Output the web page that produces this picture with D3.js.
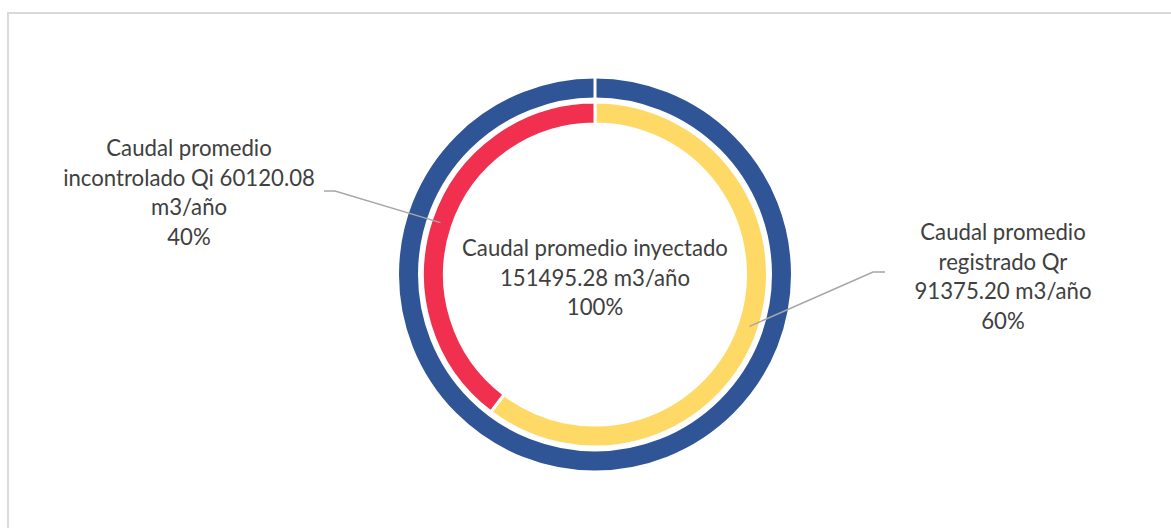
<!DOCTYPE html>
<html>
<head>
<meta charset="utf-8">
<script src="https://cdn.jsdelivr.net/npm/d3@7"></script>
<style>
  body { margin: 0; background: #fff; }
  text { font-family: Lato, "Open Sans", sans-serif; fill: #404040; }
</style>
</head>
<body>
<script>
// chart values
var sliceNames = ["Caudal promedio registrado Qr", "Caudal promedio incontrolado Qi"];
var sliceValues = [91375.20, 60120.08];
var slicePercents = ["60%", "40%"];
var totalName = "Caudal promedio inyectado";
var totalValue = [151495.28];
var totalPercent = "100%";
var unit = "m3/año";

// label lines as they wrap in the picture
var labelLines = [
  ["Caudal promedio", "registrado Qr", "91375.20 m3/año", "60%"],
  ["Caudal promedio", "incontrolado Qi 60120.08", "m3/año", "40%"]
];
var centerLines = ["Caudal promedio inyectado", "151495.28 m3/año", "100%"];

var sliceColors = ["#FFD966", "#F1304F"];
var totalColor = "#2F5597";

var width = 1171, height = 528;
var cx = 595, cy = 274.5;

var svg = d3.select("body").append("svg")
    .attr("width", width)
    .attr("height", height);

// chart area border
svg.append("rect")
    .attr("x", 8).attr("y", 13)
    .attr("width", width + 20).attr("height", height + 20)
    .attr("fill", "none")
    .attr("stroke", "#D9D9D9")
    .attr("stroke-width", 2);

var g = svg.append("g").attr("transform", "translate(" + cx + "," + cy + ")");

var pie = d3.pie().sort(null).value(function(d) { return d; });

// outer ring: total
var outerArc = d3.arc().innerRadius(175.5).outerRadius(197.5);
g.selectAll(".outer")
    .data(pie(totalValue))
  .enter().append("path")
    .attr("class", "outer")
    .attr("d", outerArc)
    .attr("fill", totalColor)
    .attr("stroke", "#fff")
    .attr("stroke-width", 3);

// the slice border at its start/end (a full circle has no radial edge)
g.selectAll(".seam")
    .data(pie(totalValue))
  .enter().append("line")
    .attr("class", "seam")
    .attr("x1", 0).attr("x2", 0)
    .attr("y1", -174).attr("y2", -199)
    .attr("stroke", "#fff")
    .attr("stroke-width", 3);

// inner ring: the two parts
var innerArc = d3.arc().innerRadius(150.5).outerRadius(172.5);
var innerData = pie(sliceValues);
g.selectAll(".inner")
    .data(innerData)
  .enter().append("path")
    .attr("class", "inner")
    .attr("d", innerArc)
    .attr("fill", function(d, i) { return sliceColors[i]; })
    .attr("stroke", "#fff")
    .attr("stroke-width", 3);

// leader lines + labels
var pointArc = d3.arc().innerRadius(163).outerRadius(163);
var labelPos = [
  {x: 1003, y: 240, elbow: 873, end: 885, ly: 272},
  {x: 189, y: 156, elbow: 335, end: 324, ly: 191}
];

var lineHeight = 29.5;
var fontSize = 20;

innerData.forEach(function(d, i) {
  var p = pointArc.centroid(d);
  var lp = labelPos[i];
  svg.append("polyline")
      .attr("points", [[cx + p[0], cy + p[1]], [lp.elbow, lp.ly], [lp.end, lp.ly]].join(" "))
      .attr("fill", "none")
      .attr("stroke", "#A6A6A6")
      .attr("stroke-width", 1.5);

  var t = svg.append("text")
      .attr("class", "lbl")
      .attr("text-anchor", "middle")
      .attr("x", lp.x).attr("y", lp.y);
  t.selectAll("tspan")
      .data(labelLines[i])
    .enter().append("tspan")
      .attr("x", lp.x)
      .attr("dy", function(s, j) { return j === 0 ? 0 : lineHeight; })
      .text(function(s) { return s; });
});

var ct = svg.append("text")
    .attr("class", "lbl")
    .attr("text-anchor", "middle")
    .attr("x", cx).attr("y", 256);
ct.selectAll("tspan")
    .data(centerLines)
  .enter().append("tspan")
    .attr("x", cx)
    .attr("dy", function(s, j) { return j === 0 ? 0 : lineHeight; })
    .text(function(s) { return s; });

// size the font so the centre line is as wide as in the picture (~266px)
svg.selectAll(".lbl").style("font-size", fontSize + "px");
var w = ct.select("tspan").node().getComputedTextLength();
fontSize = fontSize * 266 / w;
svg.selectAll(".lbl").style("font-size", fontSize + "px");
</script>
</body>
</html>
